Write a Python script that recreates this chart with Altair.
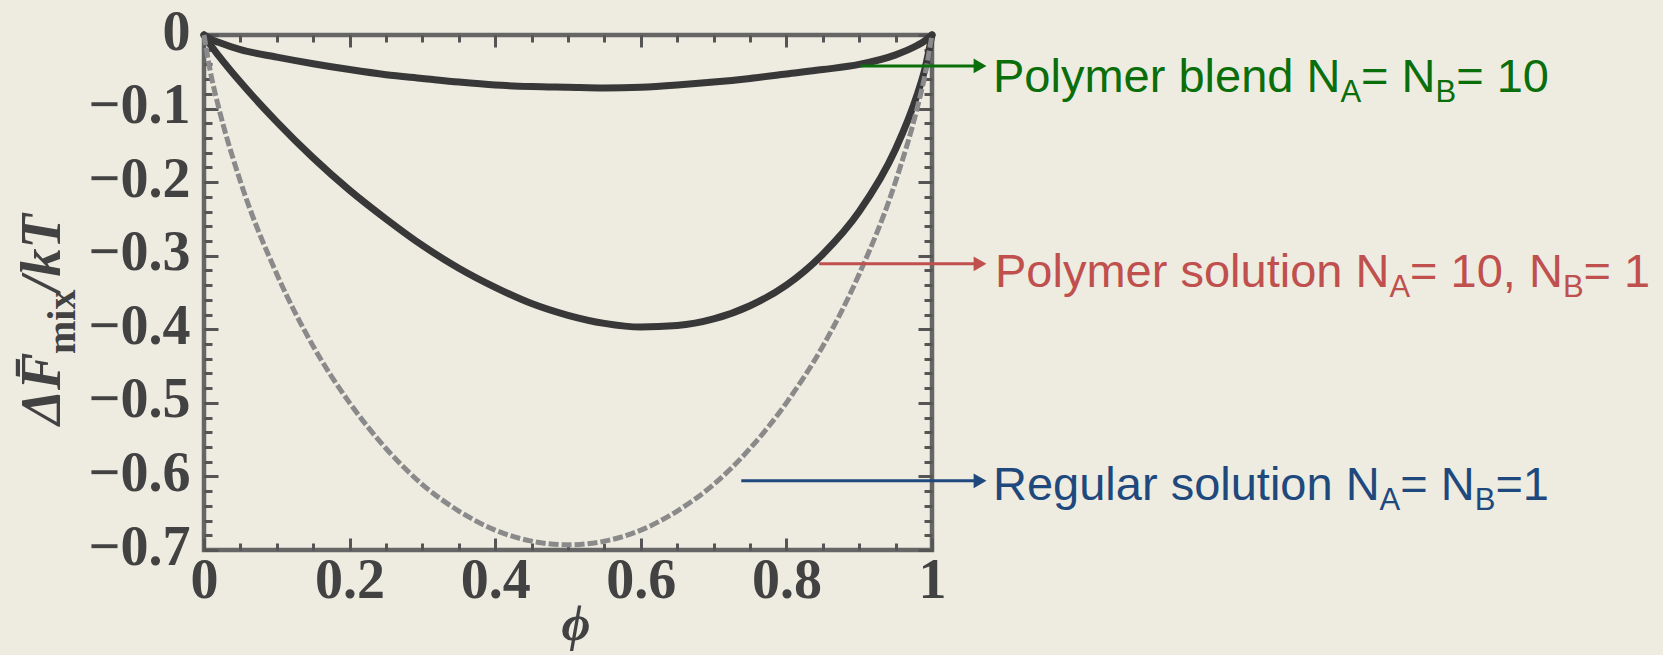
import altair as alt
import pandas as pd

# ---------------- data ----------------
phi = [0, 0.01, 0.02, 0.05, 0.1, 0.15, 0.2, 0.25, 0.3, 0.35, 0.4, 0.45, 0.5,
       0.55, 0.6, 0.65, 0.7, 0.75, 0.8, 0.85, 0.9, 0.95, 0.98, 0.99, 1]

blend = [0, -0.006, -0.010, -0.020, -0.030, -0.039, -0.047, -0.054, -0.059, -0.064,
         -0.068, -0.070, -0.071, -0.072, -0.071, -0.068, -0.064, -0.059, -0.053,
         -0.047, -0.040, -0.027, -0.014, -0.008, 0]

polymer_solution = [0, -0.015, -0.028, -0.064, -0.118, -0.167, -0.211, -0.250, -0.286,
                    -0.317, -0.343, -0.365, -0.381, -0.392, -0.397, -0.395, -0.386,
                    -0.368, -0.340, -0.298, -0.240, -0.155, -0.080, -0.047, 0]

regular_solution = [0, -0.056, -0.098, -0.199, -0.325, -0.423, -0.500, -0.562, -0.611,
                    -0.647, -0.673, -0.688, -0.693, -0.688, -0.673, -0.647, -0.611,
                    -0.562, -0.500, -0.423, -0.325, -0.199, -0.098, -0.056, 0]

x_major = [0, 0.2, 0.4, 0.6, 0.8, 1]
x_minor = [0, 0.05, 0.1, 0.15, 0.2, 0.25, 0.3, 0.35, 0.4, 0.45, 0.5, 0.55, 0.6,
           0.65, 0.7, 0.75, 0.8, 0.85, 0.9, 0.95, 1]
y_major = [0, -0.1, -0.2, -0.3, -0.4, -0.5, -0.6, -0.7]
y_minor = [round(-0.02 * i, 2) for i in range(36)]

series_names = ["Polymer blend", "Polymer solution", "Regular solution"]
series_colors = ["#0A6E0A", "#C0504D", "#1F497D"]
arrow_start_phi = [0.902, 0.845, 0.738]
arrow_end_phi = [1.066, 1.066, 1.066]
arrow_value = [-0.042, -0.311, -0.606]

label_fragments = [
    [("Polymer blend N", False), ("A", True), ("= N", False), ("B", True), ("= 10", False)],
    [("Polymer solution N", False), ("A", True), ("= 10, N", False), ("B", True), ("= 1", False)],
    [("Regular solution N", False), ("A", True), ("= N", False), ("B", True), ("=1", False)],
]

# ---------------- layout / style ----------------
W, H = 728, 515
BG = "#EEECE1"
FRAME = "#666666"
TICK = "#555555"
CURVE = "#383838"
LABEL = "#424242"

xs = alt.Scale(domain=[0, 1], nice=False, zero=False)
ys = alt.Scale(domain=[-0.7, 0], nice=False, zero=False)

df_solid = pd.DataFrame({
    "phi": phi + phi,
    "value": blend + polymer_solution,
    "series": ["blend"] * len(phi) + ["solution"] * len(phi),
})
df_reg = pd.DataFrame({"phi": phi, "value": regular_solution})
df_frame = pd.DataFrame({"phi": [0, 1], "value": [-0.7, 0]})
df_arrows = pd.DataFrame({"name": series_names, "start": arrow_start_phi,
                          "end": arrow_end_phi, "value": arrow_value})
one = pd.DataFrame({"k": [0]})

label_x_axis = alt.Axis(orient="bottom", values=x_major, format=".1~f", ticks=False,
                        tickSize=0, domain=False, grid=False, title=None,
                        labelFont="Liberation Serif", labelFontWeight="bold",
                        labelFontSize=56, labelColor=LABEL, labelPadding=3,
                        labelFlush=False, labelOverlap=False)
label_y_axis = alt.Axis(orient="left", values=y_major, format=".1~f", ticks=False,
                        tickSize=0, domain=False, grid=False, title=None,
                        labelFont="Liberation Serif", labelFontWeight="bold",
                        labelFontSize=56, labelColor=LABEL, labelPadding=14,
                        labelOffset=-3, labelFlush=False, labelOverlap=False)

solid = alt.Chart(df_solid).mark_line(
    color=CURVE, strokeWidth=7, interpolate="monotone", strokeCap="round"
).encode(
    x=alt.X("phi:Q", scale=xs, axis=label_x_axis),
    y=alt.Y("value:Q", scale=ys, axis=label_y_axis),
    detail="series:N",
)

dashed = alt.Chart(df_reg).mark_line(
    color="#8A8A8A", strokeWidth=5, strokeDash=[10, 3], interpolate="monotone"
).encode(
    x=alt.X("phi:Q", scale=xs, axis=None),
    y=alt.Y("value:Q", scale=ys, axis=None),
)


def tick_axis(orient, offset, values, size):
    return alt.Axis(orient=orient, offset=offset, values=values, tickSize=size,
                    tickWidth=3, tickColor=TICK, labels=False, domain=False,
                    grid=False, title=None, ticks=True)


def tick_layer(x_axis, y_axis):
    return alt.Chart(df_frame).mark_point(opacity=0).encode(
        x=alt.X("phi:Q", scale=xs, axis=x_axis),
        y=alt.Y("value:Q", scale=ys, axis=y_axis),
    )


ticks = [
    tick_layer(tick_axis("top", -H, x_major, 12), tick_axis("right", -W, y_major, 14)),
    tick_layer(tick_axis("bottom", -H, x_major, 12), tick_axis("left", -W, y_major, 14)),
    tick_layer(tick_axis("top", -H, x_minor, 7), tick_axis("right", -W, y_minor, 8)),
    tick_layer(tick_axis("bottom", -H, x_minor, 7), tick_axis("left", -W, y_minor, 8)),
]

color_scale = alt.Scale(domain=series_names, range=series_colors)
arrows = alt.Chart(df_arrows).mark_rule(strokeWidth=3).encode(
    x=alt.X("start:Q", scale=xs, axis=None),
    x2="end:Q",
    y=alt.Y("value:Q", scale=ys, axis=None),
    color=alt.Color("name:N", scale=color_scale, legend=None),
)
heads = alt.Chart(df_arrows).mark_point(
    shape="triangle-right", filled=True, size=220, opacity=1
).encode(
    x=alt.X("end:Q", scale=xs, axis=None),
    y=alt.Y("value:Q", scale=ys, axis=None),
    color=alt.Color("name:N", scale=color_scale, legend=None),
)

# Arial / Liberation Sans advance widths (1/1000 em) for text layout
ADV = {'P': 667, 'o': 556, 'l': 222, 'y': 500, 'm': 833, 'e': 556, 'r': 333, ' ': 278,
       'b': 556, 'n': 556, 'd': 556, 'N': 722, 'A': 667, 'B': 667, '=': 584, '1': 556,
       '0': 556, 's': 500, 'u': 556, 't': 278, 'i': 222, ',': 278, 'R': 722, 'g': 556,
       'a': 556}


def text_width(s, size):
    return sum(ADV.get(c, 556) for c in s) / 1000.0 * size


MAIN, SUB, DROP = 47, 31, 10
label_x0 = [789, 791, 789]
label_base = [57, 252, 465]

text_layers = []
for frags, color, x0, base in zip(label_fragments, series_colors, label_x0, label_base):
    x = x0
    for txt, is_sub in frags:
        size = SUB if is_sub else MAIN
        yy = base + (DROP if is_sub else 0)
        text_layers.append(
            alt.Chart(one).mark_text(
                text=txt, font="Liberation Sans", fontSize=size, color=color,
                align="left", baseline="alphabetic"
            ).encode(x=alt.value(x), y=alt.value(yy))
        )
        x += text_width(txt, size)

# axis titles
title_parts = [("\u0394F\u0304", 56, "italic", -144, 390),
               ("mix", 40, "normal", -129, 319),
               ("/kT", 56, "italic", -144, 257)]
for txt, size, style, px, py in title_parts:
    text_layers.append(
        alt.Chart(one).mark_text(
            text=txt, font="Liberation Serif", fontSize=size, fontStyle=style,
            fontWeight="bold", color=LABEL, align="left", baseline="alphabetic", angle=270
        ).encode(x=alt.value(px), y=alt.value(py))
    )
text_layers.append(
    alt.Chart(one).mark_text(
        text="\u03d5", font="Liberation Serif", fontSize=50, fontStyle="italic",
        fontWeight="bold", color=LABEL, align="center", baseline="alphabetic"
    ).encode(x=alt.value(372), y=alt.value(605))
)

chart = alt.layer(
    *ticks, solid, dashed, arrows, heads, *text_layers
).resolve_axis(
    x="independent", y="independent"
).properties(
    width=W, height=H,
    padding={"left": 204, "top": 35, "right": 731, "bottom": 105},
    autosize=alt.AutoSizeParams(type="none"),
).configure(
    background=BG
).configure_view(
    stroke=FRAME, strokeWidth=4.5
)

chart.save("out.html", embed_options={"renderer": "svg", "actions": False})
